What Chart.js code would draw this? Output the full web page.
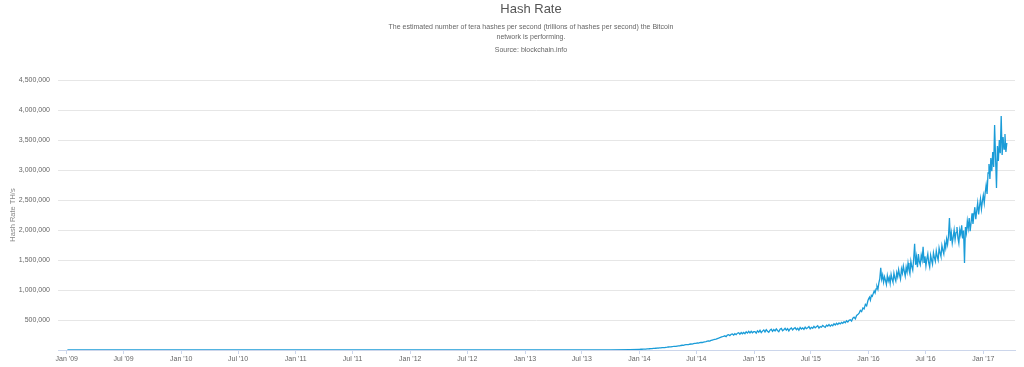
<!DOCTYPE html>
<html><head><meta charset="utf-8">
<script src="https://cdn.jsdelivr.net/npm/chart.js@4/dist/chart.umd.min.js"></script>
<style>html,body{margin:0;padding:0;background:#fff}#wrap{width:1024px;height:367px}</style>
</head><body><div id="wrap"><canvas id="c" width="1024" height="367"></canvas></div>
<script>
// ---- text ----
const chartTitle = 'Hash Rate';
const subtitleLines = ['The estimated number of tera hashes per second (trillions of hashes per second) the Bitcoin', 'network is performing.'];
const sourceLine = 'Source: blockchain.info';
const yAxisTitle = 'Hash Rate TH/s';
const monthNames = ['Jan','Feb','Mar','Apr','May','Jun','Jul','Aug','Sep','Oct','Nov','Dec'];

// ---- data (TH/s) ----
// 2009-2013: sparse samples (all visually ~0 on this scale)
const earlyDates = ['2009-01-03','2009-07-01','2010-01-01','2010-07-01','2010-10-01','2011-01-01','2011-06-01','2011-07-01','2012-01-01','2012-07-01','2013-01-01','2013-04-01','2013-07-01','2013-10-01','2013-12-01'];
const earlyValues = [0.000005,0.000008,0.00001,0.00003,0.001,0.3,8,12,10,15,25,60,250,1000,6000];
// 2014: samples every 4 days starting 2014-01-01
const start2014 = '2014-01-01';
const values2014 = [12000,13000,12500,15000,16000,15500,18000,19000,21000,23000,22000,26000,27000,29000,31000,33000,36000,34000,39000,41000,40000,45000,47000,50000,53000,51000,57000,59000,62000,60000,66000,70000,68000,75000,79000,77000,84000,88000,91000,89000,96000,100000,98000,105000,109000,112000,118000,115000,123000,128000,125000,133000,137000,141000,147000,152000,149000,160000,166000,171000,177000,182000,191000,198000,206000,214000,221000,229000,236000,222000,248000,256000,240000,262000,268000,250000,272000,255000,280000,288000,262000,290000,270000,292000,272000,305000,282000,310000,285000,312000,288000,306000];
// 2015: samples every 4 days starting 2015-01-04
const start2015 = '2015-01-04';
const values2015 = [305000,282000,320000,298000,328000,290000,315000,335000,302000,338000,312000,295000,330000,345000,310000,340000,318000,352000,325000,305000,348000,360000,322000,338000,362000,330000,355000,318000,350000,368000,335000,358000,372000,340000,362000,330000,375000,350000,368000,345000,380000,355000,372000,390000,352000,378000,362000,395000,370000,388000,405000,365000,392000,380000,410000,392000,378000,415000,400000,425000,395000,420000,405000,438000,418000,445000,425000,452000,435000,460000,445000,472000,455000,488000,468000,495000,505000,482000,530000,548000,520000,575000,590000,615000,660000,640000,700000,685000,760000,735000,820000];
// 2016-2017: samples every 3 days starting 2016-01-01
const start2016 = '2016-01-01';
const values2016 = [850000,880000,830000,910000,895000,940000,985000,950000,1020000,1060000,1010000,1120000,1190000,1370000,1180000,1250000,1130000,1220000,1160000,1090000,1240000,1150000,1210000,1110000,1260000,1180000,1130000,1280000,1200000,1150000,1290000,1220000,1340000,1250000,1180000,1350000,1280000,1400000,1310000,1230000,1380000,1300000,1450000,1340000,1270000,1480000,1390000,1330000,1520000,1770000,1420000,1550000,1380000,1600000,1470000,1420000,1580000,1500000,1720000,1460000,1560000,1400000,1520000,1600000,1450000,1380000,1580000,1500000,1430000,1620000,1540000,1480000,1650000,1560000,1500000,1700000,1620000,1560000,1740000,1660000,1600000,1780000,1700000,1850000,1760000,1900000,2200000,1820000,1950000,1780000,1880000,2000000,1840000,1960000,2050000,1870000,1780000,2000000,1920000,2080000,1860000,1990000,1450000,2050000,1950000,2150000,2030000,2200000,1980000,2120000,2280000,2100000,2250000,2380000,2180000,2320000,2450000,2260000,2400000,2520000,2350000,2480000,2580000,2450000,2620000,2750000,2600000,2950000,3100000,2850000,3200000,2980000,3300000,3050000,3750000,3200000,2700000,3400000,3150000,3500000,3280000,3900000,3250000,3550000,3350000,3600000,3300000,3450000];
// axis ticks (every 500,000) and x tick dates
const yTickStep = 500000;
const yMax = 4500000;
const xTickDates = ['2009-01-01','2009-07-01','2010-01-01','2010-07-01','2011-01-01','2011-07-01','2012-01-01','2012-07-01','2013-01-01','2013-07-01','2014-01-01','2014-07-01','2015-01-01','2015-07-01','2016-01-01','2016-07-01','2017-01-01'];
const xMinDate = '2008-12-04';
const xMaxDate = '2017-04-12';

// ---- build points ----
const DAY = 86400000;
const t = s => Date.parse(s + 'T00:00:00Z');
const points = [];
earlyDates.forEach((d,i)=>points.push({x:t(d), y:earlyValues[i]}));
values2014.forEach((v,i)=>points.push({x:t(start2014)+i*4*DAY, y:v}));
values2015.forEach((v,i)=>points.push({x:t(start2015)+i*4*DAY, y:v}));
values2016.forEach((v,i)=>points.push({x:t(start2016)+i*3*DAY, y:v}));

const FONT = "'Liberation Sans', Arial, sans-serif";

const headerPlugin = {
  id: 'header',
  afterDraw(chart) {
    const ctx = chart.ctx;
    ctx.save();
    ctx.textAlign = 'center';
    ctx.textBaseline = 'middle';
    const cx = 531;
    ctx.fillStyle = '#555555';
    ctx.font = '13px ' + FONT;
    ctx.fillText(chartTitle, cx, 9.5);
    ctx.fillStyle = '#666666';
    ctx.font = '7px ' + FONT;
    ctx.fillText(subtitleLines[0], cx, 27.5);
    ctx.fillText(subtitleLines[1], cx, 37.5);
    ctx.fillText(sourceLine, cx, 50);
    ctx.restore();
  }
};

new Chart(document.getElementById('c'), {
  type: 'line',
  data: { datasets: [{
    data: points,
    borderColor: '#1a9cd8',
    borderWidth: 1.3,
    pointRadius: 0,
    tension: 0,
    fill: false
  }]},
  options: {
    responsive: false,
    animation: false,
    events: [],
    layout: { padding: { top: 80, right: 9, bottom: 0, left: 0 } },
    plugins: { legend: { display: false }, tooltip: { enabled: false }, title: { display: false } },
    scales: {
      x: {
        type: 'linear',
        min: t(xMinDate),
        max: t(xMaxDate),
        afterBuildTicks: s => { s.ticks = xTickDates.map(d => ({ value: t(d) })); },
        afterFit: s => { s.height = 17; },
        grid: { drawOnChartArea: false, drawTicks: true, tickLength: 4, color: '#ccd6eb' },
        border: { color: '#ccd6eb', width: 1 },
        ticks: {
          autoSkip: false, maxRotation: 0, padding: 1,
          color: '#666666', font: { family: FONT, size: 7 },
          callback: v => { const d = new Date(v); return monthNames[d.getUTCMonth()] + " '" + String(d.getUTCFullYear()).slice(2); }
        }
      },
      y: {
        min: 0, max: yMax,
        afterFit: s => { s.width = 58; },
        grid: { color: '#e6e6e6', drawTicks: false, lineWidth: 1 },
        border: { display: false },
        title: { display: true, text: yAxisTitle, color: '#888888', font: { family: FONT, size: 7.5 }, padding: { top: 8, bottom: 0 } },
        ticks: {
          stepSize: yTickStep, padding: 8,
          color: '#666666', font: { family: FONT, size: 7 },
          callback: v => v === 0 ? '' : v.toLocaleString('en-US')
        }
      }
    }
  },
  plugins: [headerPlugin]
});
</script>
</body></html>
